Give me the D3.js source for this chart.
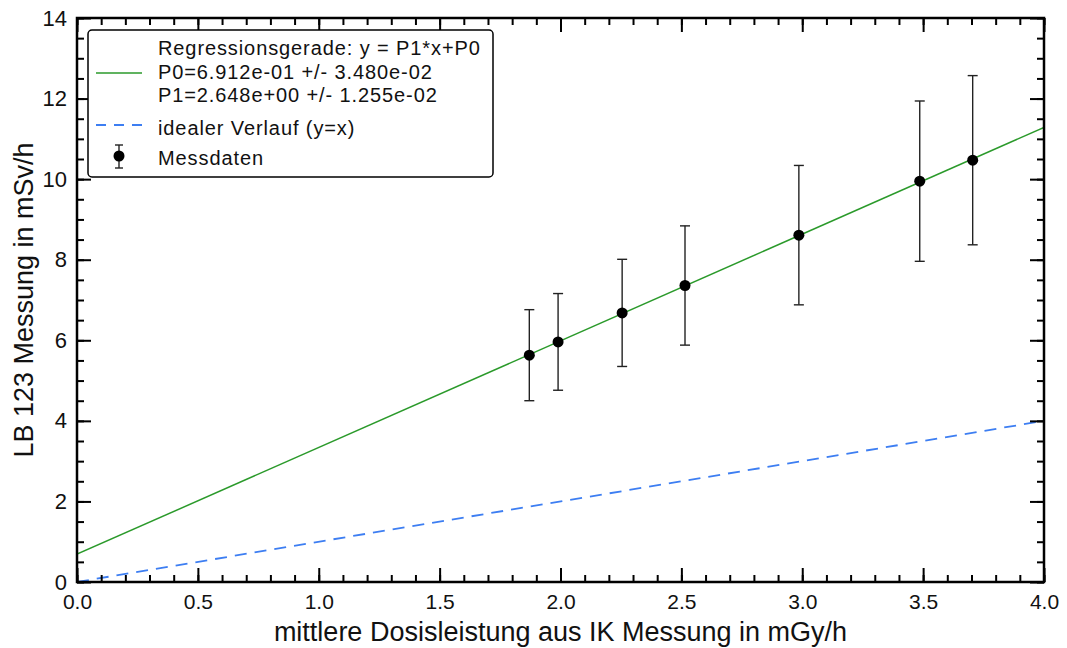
<!DOCTYPE html>
<html>
<head>
<meta charset="utf-8">
<script src="https://cdn.jsdelivr.net/npm/d3@7"></script>
<style>
  body { margin: 0; background: #fff; }
  text { font-family: "Liberation Sans", Arial, sans-serif; fill: #111; }
  .leg { font-size: 20px; letter-spacing: 0.9px; }
</style>
</head>
<body>
<div class="chart"></div>
<script>
// data
var doseX = [1.871, 1.990, 2.255, 2.515, 2.986, 3.486, 3.705];
var lbY = [5.63, 5.96, 6.68, 7.36, 8.61, 9.95, 10.47];
var lbErr = [1.13, 1.20, 1.33, 1.48, 1.73, 1.99, 2.10];

// fit parameters (from legend)
var P0 = 0.6912;
var P1 = 2.648;

var xTicks = [0, 0.5, 1, 1.5, 2, 2.5, 3, 3.5, 4];
var yTicks = [0, 2, 4, 6, 8, 10, 12, 14];

var legendLines = [
  "Regressionsgerade: y = P1*x+P0",
  "P0=6.912e-01 +/- 3.480e-02",
  "P1=2.648e+00 +/- 1.255e-02"
];

// Set Up Margins
var svgWidth = 1067;
var svgHeight = 648;

var margin = { top: 18, right: 23, bottom: 66, left: 77 };
var width = svgWidth - margin.left - margin.right;
var height = svgHeight - margin.top - margin.bottom;

var svg = d3.select(".chart")
  .append("svg")
  .attr("width", svgWidth)
  .attr("height", svgHeight);

var chartGroup = svg.append("g")
  .attr("transform", `translate(${margin.left}, ${margin.top})`);

var xScale = d3.scaleLinear().domain([0, 4]).range([0, width]);
var yScale = d3.scaleLinear().domain([0, 14]).range([height, 0]);

// clip for the lines
svg.append("defs").append("clipPath").attr("id", "clip")
  .append("rect").attr("width", width).attr("height", height);

// ideal line y=x
chartGroup.append("line")
  .attr("clip-path", "url(#clip)")
  .attr("x1", xScale(0)).attr("y1", yScale(0))
  .attr("x2", xScale(4)).attr("y2", yScale(4))
  .attr("stroke", "#3d7ef2")
  .attr("stroke-width", 1.8)
  .attr("stroke-dasharray", "12,8");

// regression line
chartGroup.append("line")
  .attr("clip-path", "url(#clip)")
  .attr("x1", xScale(0)).attr("y1", yScale(P0))
  .attr("x2", xScale(4)).attr("y2", yScale(P1 * 4 + P0))
  .attr("stroke", "#2b9a2b")
  .attr("stroke-width", 1.5);

// error bars
var points = doseX.map((x, i) => ({ x: x, y: lbY[i], e: lbErr[i] }));

var errGroup = chartGroup.selectAll(".err")
  .data(points)
  .enter()
  .append("g")
  .attr("class", "err")
  .attr("stroke", "#222")
  .attr("stroke-width", 1.4);

errGroup.append("line")
  .attr("x1", d => xScale(d.x)).attr("x2", d => xScale(d.x))
  .attr("y1", d => yScale(d.y - d.e)).attr("y2", d => yScale(d.y + d.e));
errGroup.append("line")
  .attr("x1", d => xScale(d.x) - 5).attr("x2", d => xScale(d.x) + 5)
  .attr("y1", d => yScale(d.y + d.e)).attr("y2", d => yScale(d.y + d.e));
errGroup.append("line")
  .attr("x1", d => xScale(d.x) - 5).attr("x2", d => xScale(d.x) + 5)
  .attr("y1", d => yScale(d.y - d.e)).attr("y2", d => yScale(d.y - d.e));

chartGroup.selectAll("circle.pt")
  .data(points)
  .enter()
  .append("circle")
  .attr("class", "pt")
  .attr("cx", d => xScale(d.x))
  .attr("cy", d => yScale(d.y))
  .attr("r", 5.5)
  .attr("fill", "#000");

// axes: ticks inward on all four sides
function styleAxis(g) {
  g.select(".domain").remove();
  g.selectAll(".tick line").attr("stroke", "#000").attr("stroke-width", 2);
  g.selectAll(".tick text").style("font-size", "21px").attr("fill", "#111");
}

var xMinor = d3.range(0, 4.001, 0.1).map(v => +v.toFixed(1));
var yMinor = d3.range(0, 14.001, 0.5);

chartGroup.append("g")
  .attr("transform", `translate(0, ${height})`)
  .call(d3.axisBottom(xScale).tickValues(xMinor).tickSize(-7).tickFormat(""))
  .call(styleAxis);
chartGroup.append("g")
  .attr("transform", `translate(0, ${height})`)
  .call(d3.axisBottom(xScale).tickValues(xTicks).tickSize(-14).tickFormat(d3.format(".1f")))
  .call(styleAxis)
  .selectAll(".tick text").attr("y", 12);
chartGroup.append("g")
  .call(d3.axisTop(xScale).tickValues(xMinor).tickSize(-7).tickFormat(""))
  .call(styleAxis);
chartGroup.append("g")
  .call(d3.axisTop(xScale).tickValues(xTicks).tickSize(-14).tickFormat(""))
  .call(styleAxis);

chartGroup.append("g")
  .call(d3.axisLeft(yScale).tickValues(yMinor).tickSize(-7).tickFormat(""))
  .call(styleAxis);
chartGroup.append("g")
  .call(d3.axisLeft(yScale).tickValues(yTicks).tickSize(-14).tickFormat(d3.format("d")))
  .call(styleAxis)
  .selectAll(".tick text").attr("x", -10).style("font-size", "22px");
chartGroup.append("g")
  .attr("transform", `translate(${width}, 0)`)
  .call(d3.axisRight(yScale).tickValues(yMinor).tickSize(-7).tickFormat(""))
  .call(styleAxis);
chartGroup.append("g")
  .attr("transform", `translate(${width}, 0)`)
  .call(d3.axisRight(yScale).tickValues(yTicks).tickSize(-14).tickFormat(""))
  .call(styleAxis);

// frame
chartGroup.append("rect")
  .attr("width", width)
  .attr("height", height)
  .attr("fill", "none")
  .attr("stroke", "#000")
  .attr("stroke-width", 2.5);

// axis titles
chartGroup.append("text")
  .attr("x", width / 2)
  .attr("y", height + 59)
  .attr("text-anchor", "middle")
  .style("font-size", "27px")
  .text("mittlere Dosisleistung aus IK Messung in mGy/h");

chartGroup.append("text")
  .attr("transform", "rotate(-90)")
  .attr("x", -height / 2)
  .attr("y", -margin.left + 33)
  .attr("text-anchor", "middle")
  .style("font-size", "27px")
  .text("LB 123 Messung in mSv/h");

// legend
var legend = svg.append("g").attr("transform", "translate(88, 30)");
legend.append("rect")
  .attr("width", 405)
  .attr("height", 147)
  .attr("rx", 4)
  .attr("fill", "#fff")
  .attr("stroke", "#000")
  .attr("stroke-width", 1.5);

legend.selectAll("text.fit")
  .data(legendLines)
  .enter()
  .append("text")
  .attr("class", "fit leg")
  .attr("x", 70)
  .attr("y", (d, i) => 25 + i * 23.5)
  .text(d => d);

legend.append("line")
  .attr("x1", 8).attr("x2", 54).attr("y1", 43).attr("y2", 43)
  .attr("stroke", "#2b9a2b").attr("stroke-width", 1.5);

legend.append("text")
  .attr("class", "leg")
  .attr("x", 70).attr("y", 105)
  .text("idealer Verlauf (y=x)");
legend.append("line")
  .attr("x1", 8).attr("x2", 54).attr("y1", 95).attr("y2", 95)
  .attr("stroke", "#3d7ef2").attr("stroke-width", 1.8)
  .attr("stroke-dasharray", "10,8");

legend.append("text")
  .attr("class", "leg")
  .attr("x", 70).attr("y", 135)
  .text("Messdaten");
var lm = legend.append("g").attr("stroke", "#222").attr("stroke-width", 1.4);
lm.append("line").attr("x1", 31).attr("x2", 31).attr("y1", 115).attr("y2", 138);
lm.append("line").attr("x1", 27).attr("x2", 35).attr("y1", 115).attr("y2", 115);
lm.append("line").attr("x1", 27).attr("x2", 35).attr("y1", 138).attr("y2", 138);
legend.append("circle").attr("cx", 31).attr("cy", 126).attr("r", 5.5).attr("fill", "#000");
</script>
</body>
</html>
